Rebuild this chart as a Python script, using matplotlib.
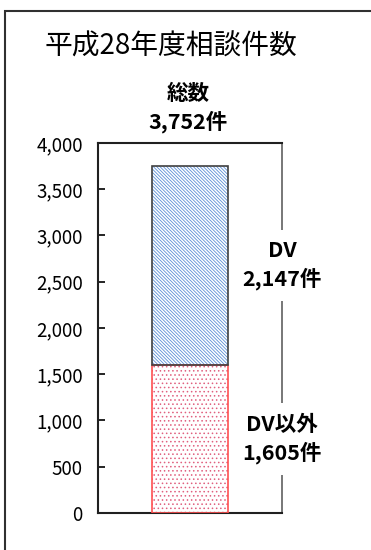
import matplotlib.pyplot as plt
from matplotlib.patches import Rectangle

plt.rcParams['font.family'] = ['Noto Sans CJK JP', 'DejaVu Sans']
plt.rcParams['hatch.linewidth'] = 0.6

# データ
title = "平成28年度相談件数"
categories = ["DV以外", "DV"]
values = [1605, 2147]
total = 3752
yticks = [0, 500, 1000, 1500, 2000, 2500, 3000, 3500, 4000]

fig = plt.figure(figsize=(3.71, 5.5), dpi=100)
ax = fig.add_axes([0.2642, 0.0673, 0.496, 0.6727])

# 下段: DV以外 (赤い点)
ax.bar(0, values[0], width=0.41, color='white', edgecolor='#e0607f',
       hatch='....', linewidth=0, zorder=2)
ax.bar(0, values[0], width=0.41, fill=False, edgecolor='#ff5050',
       linewidth=1.2, zorder=3)
# 上段: DV (青い斜線)
ax.bar(0, values[1], bottom=values[0], width=0.41, color='white',
       edgecolor='#5b8fd6', hatch='\\' * 10, linewidth=0, zorder=2)
ax.bar(0, values[1], bottom=values[0], width=0.41, fill=False,
       edgecolor='#404040', linewidth=1.2, zorder=3)

ax.set_xlim(-0.5, 0.5)
ax.set_ylim(0, 4000)
ax.set_xticks([])
ax.set_yticks(yticks)
ax.set_yticklabels([f"{v:,}" for v in yticks])
ax.tick_params(axis='y', direction='in', length=5, width=1.2, pad=11,
               labelsize=13.5)
for s in ['left', 'bottom', 'top']:
    ax.spines[s].set_linewidth(1.5)
    ax.spines[s].set_color('#202020')
ax.spines['right'].set_color('#606060')
ax.spines['right'].set_linewidth(1.2)

# ラベル (白背景で右枠を隠す)
box = dict(facecolor='white', edgecolor='none', pad=8)
ax.text(1.0, values[0] + values[1] / 2, f"{categories[1]}\n{values[1]:,}件",
        transform=ax.get_yaxis_transform(), ha='center', va='center',
        fontsize=15.5, fontweight='bold', linespacing=1.35, bbox=box,
        zorder=5, clip_on=False)
ax.text(1.0, values[0] / 2, f"{categories[0]}\n{values[0]:,}件",
        transform=ax.get_yaxis_transform(), ha='center', va='center',
        fontsize=15.5, fontweight='bold', linespacing=1.35, bbox=box,
        zorder=5, clip_on=False)

fig.text(171 / 371, 1 - 47 / 550, title, ha='center', va='center',
         fontsize=20)
fig.text(188 / 371, 1 - 108 / 550, f"総数\n{total:,}件", ha='center',
         va='center', fontsize=15.5, fontweight='bold', linespacing=1.4)

# 外枠
fig.patches.append(Rectangle((5 / 371, -0.1), 1.2, 1.1 - 11 / 550,
                             transform=fig.transFigure, fill=False,
                             edgecolor='#303030', linewidth=1.5))

fig.savefig('out.png', dpi=100)
